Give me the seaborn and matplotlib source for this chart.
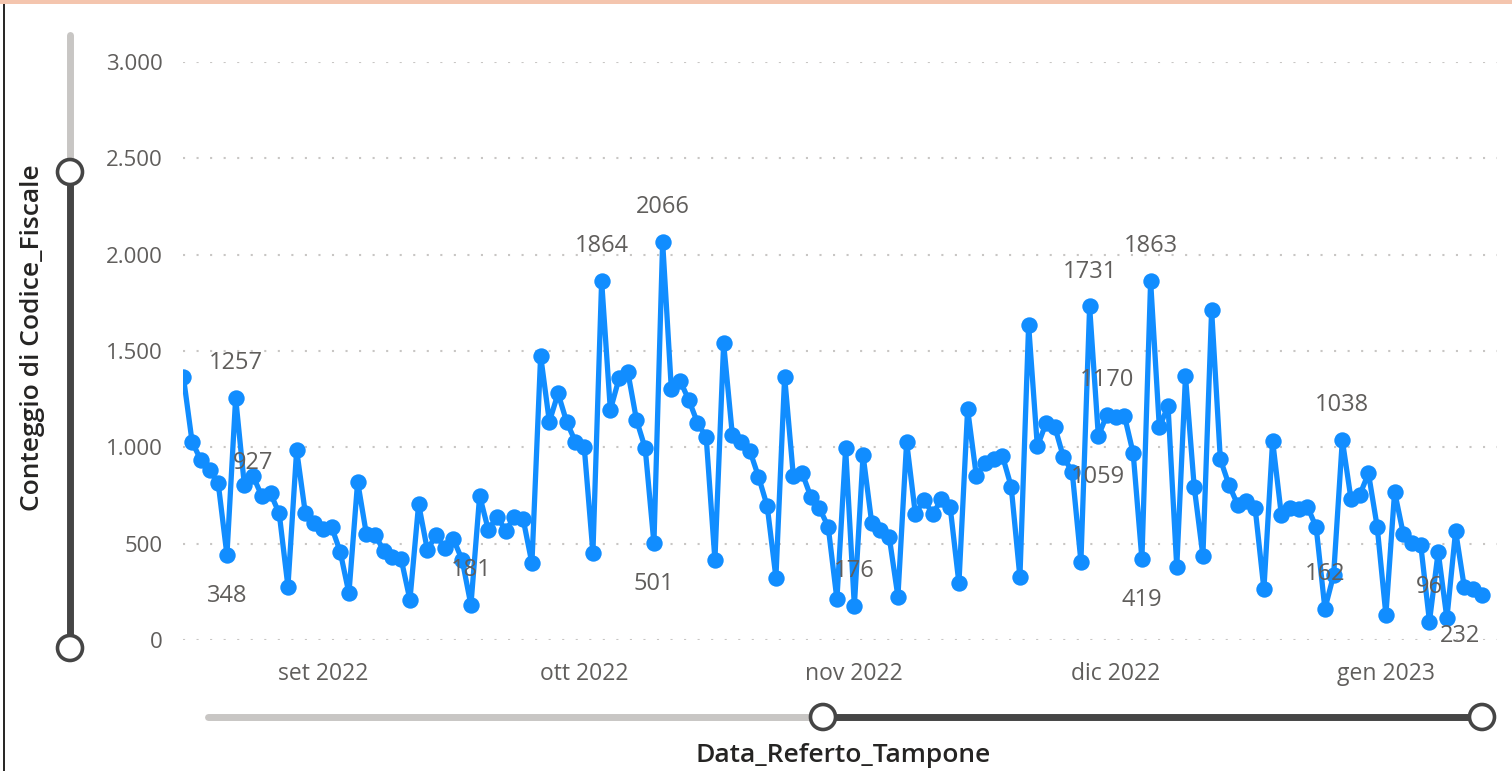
import matplotlib
matplotlib.use("Agg")
import matplotlib.pyplot as plt
from matplotlib.patches import Circle, Rectangle
import numpy as np
import pandas as pd
import seaborn as sns

# ---------------- data ----------------
start_date = "2022-08-16"
end_date = "2023-01-12"
conteggio = [
    1367, 1029, 934, 882, 813, 441, 1257, 804, 851, 747,
    761, 657, 277, 986, 657, 606, 574, 588, 458, 242,
    822, 550, 545, 464, 431, 419, 208, 706, 467, 545,
    476, 522, 415, 181, 749, 571, 640, 567, 640, 626,
    398, 1476, 1133, 1280, 1130, 1029, 1003, 453, 1864, 1194,
    1358, 1393, 1142, 995, 501, 2066, 1301, 1346, 1246, 1128,
    1052, 415, 1540, 1064, 1029, 983, 848, 695, 324, 1367,
    851, 868, 744, 683, 588, 211, 995, 176, 960, 606,
    571, 536, 225, 1029, 654, 727, 654, 730, 689, 294,
    1199, 851, 920, 938, 955, 796, 325, 1635, 1005, 1125,
    1107, 948, 874, 407, 1731, 1059, 1170, 1159, 1163, 969,
    419, 1863, 1104, 1214, 377, 1370, 796, 436, 1713, 938,
    804, 701, 723, 683, 263, 1035, 649, 683, 678, 692,
    585, 162, 337, 1038, 730, 753, 865, 588, 130, 770,
    550, 505, 493, 96, 458, 112, 566, 273, 263, 232,
]
label_dates = ["2022-08-21", "2022-08-22", "2022-08-24", "2022-09-18", "2022-10-03",
               "2022-10-09", "2022-10-10", "2022-11-01", "2022-11-28", "2022-11-29",
               "2022-11-30", "2022-12-04", "2022-12-05", "2022-12-25", "2022-12-27",
               "2023-01-06", "2023-01-12"]
label_texts = ["348", "1257", "927", "181", "1864", "501", "2066", "176", "1731", "1059",
               "1170", "419", "1863", "162", "1038", "96", "232"]
label_side = ["below", "above", "near", "above", "above", "below", "above", "above", "above", "below",
              "above", "below", "above", "above", "above", "above", "below_left"]
month_ticks = ["2022-09-01", "2022-10-01", "2022-11-01", "2022-12-01", "2023-01-01"]
month_labels = ["set 2022", "ott 2022", "nov 2022", "dic 2022", "gen 2023"]
y_ticks = [0, 500, 1000, 1500, 2000, 2500, 3000]
y_tick_labels = ["0", "500", "1.000", "1.500", "2.000", "2.500", "3.000"]
x_title = "Data_Referto_Tampone"
y_title = "Conteggio di Codice_Fiscale"

dates = pd.date_range(start_date, end_date, freq="D")
df = pd.DataFrame({"Data_Referto_Tampone": dates, "Conteggio": conteggio})

# ---------------- style ----------------
sns.set_style("white")
plt.rcParams["font.family"] = ["Open Sans", "DejaVu Sans"]

W, H = 1512, 771
fig = plt.figure(figsize=(W / 100, H / 100), dpi=100)
fig.patch.set_facecolor("white")

L, R, T, B = 183, 1497, 62, 640
ax = fig.add_axes([L / W, 1 - B / H, (R - L) / W, (B - T) / H])
ax.set_facecolor("none")

BLUE = "#118DFF"
GREY_TXT = "#605E5C"

sns.lineplot(data=df, x="Data_Referto_Tampone", y="Conteggio", ax=ax,
             color=BLUE, linewidth=3.8, marker="o", markersize=11.8,
             markeredgewidth=0, markerfacecolor=BLUE, zorder=3)

x0 = pd.Timestamp(start_date) - pd.Timedelta(hours=1)
x1 = pd.Timestamp(end_date) + pd.Timedelta(hours=42)
ax.set_xlim(x0, x1)
ax.set_ylim(0, 3000)

ax.set_yticks(y_ticks)
ax.set_yticklabels(y_tick_labels, fontsize=16, color=GREY_TXT)
ax.set_xticks(pd.to_datetime(month_ticks))
ax.set_xticklabels(month_labels, fontsize=16.5, color=GREY_TXT)
ax.tick_params(axis="y", length=0, pad=14.5)
ax.tick_params(axis="x", length=0, pad=16)
ax.set_xlabel("")
ax.set_ylabel("")
for s in ax.spines.values():
    s.set_visible(False)
ax.yaxis.grid(True, color="#C8C6C4", linestyle=(0, (1, 5.5)), linewidth=1.5)
ax.xaxis.grid(False)
ax.set_axisbelow(True)

# data labels
offsets = {"above": (0, 25), "below": (0, -29.5), "near": (0, 9.5), "below_left": (-16, -29.5)}
vals = dict(zip(dates, conteggio))
for d, t, side in zip(label_dates, label_texts, label_side):
    dt = pd.Timestamp(d)
    ax.annotate(t, xy=(dt, vals[dt]), xytext=offsets[side], textcoords="offset points",
                ha="center", va="center", fontsize=17, color=GREY_TXT, zorder=5)

# ---------------- overlay (frame, sliders, titles) ----------------
ov = fig.add_axes([0, 0, 1, 1], zorder=-1)
ov.set_xlim(0, W)
ov.set_ylim(H, 0)
ov.axis("off")

ov.add_patch(Rectangle((0, 0), W, 4, color="#F4C5AE", lw=0))
ov.plot([4, 4], [4, H], color="#252423", lw=1.4, solid_capstyle="butt")

LIGHT = "#C8C6C4"
DARK = "#454545"
# vertical slider
ov.plot([70, 70], [35, 172], color=LIGHT, lw=5, solid_capstyle="round")
ov.plot([70, 70], [172, 648], color=DARK, lw=5, solid_capstyle="butt")
# horizontal slider
ov.plot([208, 823], [717, 717], color=LIGHT, lw=5, solid_capstyle="round")
ov.plot([823, 1482], [717, 717], color=DARK, lw=5, solid_capstyle="butt")
for cx, cy in [(70, 172), (70, 648), (823, 717), (1482, 717)]:
    ov.add_patch(Circle((cx, cy), 12.5, facecolor="white", edgecolor=DARK, lw=2.6, zorder=4))

fig.text(33 / W, 1 - 338 / H, y_title, rotation=90, ha="center", va="center",
         fontsize=19, fontweight="semibold", color="#252423")
fig.text(843 / W, 1 - 755 / H, x_title, ha="center", va="center",
         fontsize=19, fontweight="semibold", color="#252423")

fig.savefig("out.png", dpi=100)
